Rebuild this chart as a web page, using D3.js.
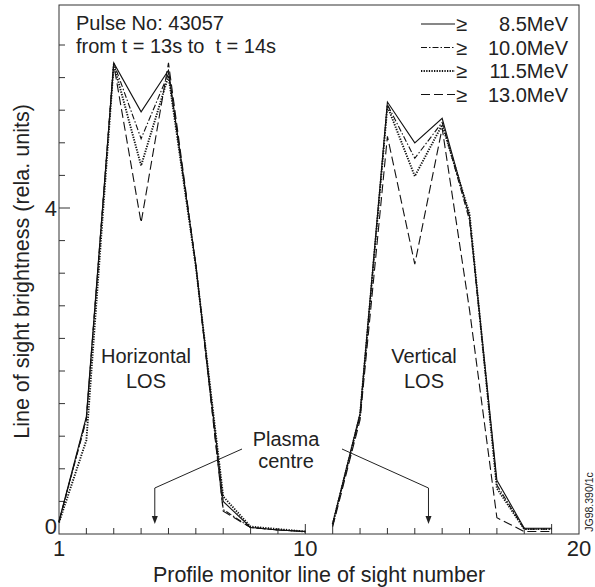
<!DOCTYPE html>
<html>
<head>
<meta charset="utf-8">
<script src="https://cdn.jsdelivr.net/npm/d3@7"></script>
<style>
  body { margin: 0; background: #fff; }
  text { font-family: "Liberation Sans", Arial, sans-serif; fill: #222; }
</style>
</head>
<body>
<div id="chart"></div>
<script>
;(function () {
  // line of sight numbers for each camera
  const horizLOS = [1, 2, 3, 4, 5, 6, 7, 8, 9, 10]
  const vertLOS = [11, 12, 13, 14, 15, 16, 17, 18, 19]

  const energies = ["8.5MeV", "10.0MeV", "11.5MeV", "13.0MeV"]

  // brightness, horizontal LOS
  const horiz85 = [0.16, 1.44, 5.78, 5.18, 5.69, 3.3, 0.4, 0.08, 0.05, 0.03]
  const horiz100 = [0.15, 1.4, 5.78, 4.85, 5.65, 3.3, 0.3, 0.08, 0.05, 0.03]
  const horiz115 = [0.14, 1.15, 5.76, 4.52, 5.62, 3.28, 0.46, 0.09, 0.06, 0.03]
  const horiz130 = [0.15, 1.42, 5.76, 3.82, 5.78, 3.3, 0.28, 0.08, 0.05, 0.03]

  // brightness, vertical LOS
  const vert85 = [0.13, 1.48, 5.3, 4.8, 5.1, 3.89, 0.66, 0.07, 0.07]
  const vert100 = [0.12, 1.45, 5.27, 4.61, 5.05, 3.85, 0.6, 0.06, 0.06]
  const vert115 = [0.12, 1.46, 5.25, 4.39, 5.02, 3.93, 0.56, 0.06, 0.06]
  const vert130 = [0.09, 1.4, 4.88, 3.31, 4.98, 2.75, 0.2, 0.03, 0.03]

  const plasmaCentre = [4.5, 14.5]

  const xTicks = d3.range(2, 20)
  const xMajor = [10, 11, 19]
  const yTicks = d3.range(1, 16).map(i => +(i * 0.4).toFixed(1))

  const width = 595
  const height = 587
  const left = 59, right = 579, top = 5, bottom = 534

  const x = d3.scaleLinear().domain([1, 20]).range([left, right])
  const y = d3.scaleLinear().domain([0, (bottom - top) / 81.5]).range([bottom, top])

  const dashes = ["none", "6,2,1.5,2", "1.3,1.3", "9,4"]
  const widths = [1.1, 1.1, 1.9, 1.1]

  const svg = d3.select("#chart").append("svg").attr("width", width).attr("height", height)

  // frame
  svg.append("rect")
    .attr("x", left).attr("y", top)
    .attr("width", right - left).attr("height", bottom - top)
    .attr("fill", "none").attr("stroke", "#333").attr("stroke-width", 1)

  // x ticks pointing inward
  svg.selectAll(".xtick")
    .data(xTicks)
    .join("line")
    .attr("x1", d => x(d)).attr("x2", d => x(d))
    .attr("y1", bottom).attr("y2", d => bottom - (xMajor.includes(d) ? 10 : 6))
    .attr("stroke", "#333")

  svg.selectAll(".xlab")
    .data([1, 10, 20])
    .join("text")
    .attr("x", d => x(d)).attr("y", 556)
    .attr("text-anchor", "middle")
    .style("font-size", "22px")
    .text(d => d)

  // y ticks pointing inward
  svg.selectAll(".ytick")
    .data(yTicks)
    .join("line")
    .attr("x1", left).attr("x2", d => left + (d === 4 ? 11 : 6))
    .attr("y1", d => y(d)).attr("y2", d => y(d))
    .attr("stroke", "#333")

  svg.selectAll(".ylab")
    .data([0, 4])
    .join("text")
    .attr("x", left - 2).attr("y", d => y(d) + (d === 0 ? 0 : 8))
    .attr("text-anchor", "end")
    .style("font-size", "22px")
    .text(d => d)

  // curves
  const line = d3.line().x(d => x(d[0])).y(d => y(d[1]))
  const horizSeries = [horiz85, horiz100, horiz115, horiz130]
  const vertSeries = [vert85, vert100, vert115, vert130]

  const curves = []
  horizSeries.forEach((s, i) => curves.push({ i, pts: horizLOS.map((l, k) => [l, s[k]]) }))
  vertSeries.forEach((s, i) => curves.push({ i, pts: vertLOS.map((l, k) => [l, s[k]]) }))

  svg.selectAll(".curve")
    .data(curves)
    .join("path")
    .attr("d", d => line(d.pts))
    .attr("fill", "none")
    .attr("stroke", "#111")
    .attr("stroke-width", d => widths[d.i])
    .attr("stroke-dasharray", d => dashes[d.i])

  // legend
  const legend = svg.selectAll(".legend")
    .data(energies)
    .join("g")
    .attr("transform", (d, i) => `translate(0, ${24 + i * 23.5})`)

  legend.append("line")
    .attr("x1", 421).attr("x2", 455)
    .attr("stroke", "#111")
    .attr("stroke-width", (d, i) => widths[i])
    .attr("stroke-dasharray", (d, i) => dashes[i])

  legend.append("text")
    .attr("x", 456).attr("y", 7)
    .style("font-size", "20px")
    .text("≥")

  legend.append("text")
    .attr("x", 568).attr("y", 7)
    .attr("text-anchor", "end")
    .style("font-size", "20px")
    .text(d => d)

  // header text
  svg.append("text").attr("x", 76).attr("y", 30).style("font-size", "20px").text("Pulse No: 43057")
  svg.append("text").attr("x", 76).attr("y", 53).style("font-size", "20px")
    .attr("xml:space", "preserve").text("from t = 13s to  t = 14s")

  // region labels
  const labels = [
    { x: 146, y: 363, t: "Horizontal" }, { x: 146, y: 388, t: "LOS" },
    { x: 424, y: 363, t: "Vertical" }, { x: 424, y: 388, t: "LOS" },
    { x: 286, y: 446, t: "Plasma" }, { x: 286, y: 468, t: "centre" }
  ]
  svg.selectAll(".lab")
    .data(labels)
    .join("text")
    .attr("x", d => d.x).attr("y", d => d.y)
    .attr("text-anchor", "middle")
    .style("font-size", "20px")
    .text(d => d.t)

  // plasma centre arrows
  const starts = [[242, 449], [342, 449]]
  plasmaCentre.forEach((c, i) => {
    const ax = x(c)
    svg.append("polyline")
      .attr("points", `${starts[i][0]},${starts[i][1]} ${ax},488 ${ax},518`)
      .attr("fill", "none").attr("stroke", "#222").attr("stroke-width", 1)
    svg.append("path")
      .attr("d", `M${ax - 3},516 L${ax + 3},516 L${ax},524 Z`)
      .attr("fill", "#222")
  })

  // axis titles
  svg.append("text")
    .attr("x", (left + right) / 2).attr("y", 582)
    .attr("text-anchor", "middle")
    .style("font-size", "21.5px")
    .text("Profile monitor line of sight number")

  svg.append("text")
    .attr("transform", `translate(29, ${(top + bottom) / 2 + 2}) rotate(-90)`)
    .attr("text-anchor", "middle")
    .style("font-size", "21.5px")
    .text("Line of sight brightness (rela. units)")

  svg.append("text")
    .attr("transform", "translate(593, 502) rotate(-90)")
    .attr("text-anchor", "middle")
    .style("font-size", "10.5px")
    .text("JG98.390/1c")
})()
</script>
</body>
</html>
